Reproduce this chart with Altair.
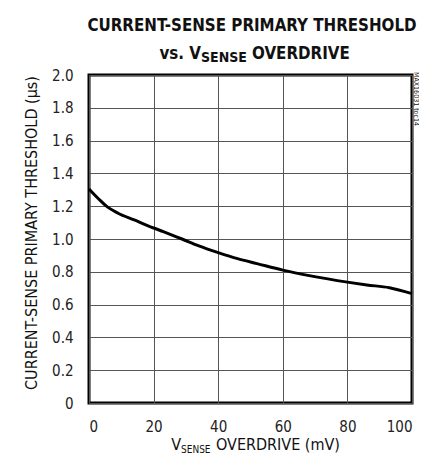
import altair as alt
import pandas as pd

# data
overdrive_mv = [0, 3, 5.4, 9, 14, 20, 23, 28.8, 34, 40, 46, 52, 60, 68.6, 80, 86, 93, 100]
threshold_us = [1.305, 1.244, 1.20, 1.157, 1.116, 1.067, 1.045, 1.0, 0.958, 0.917, 0.88, 0.85, 0.81, 0.775, 0.737, 0.72, 0.703, 0.667]

x_ticks = [0, 20, 40, 60, 80, 100]
y_ticks = [0, 0.2, 0.4, 0.6, 0.8, 1.0, 1.2, 1.4, 1.6, 1.8, 2.0]

title_line1 = "CURRENT-SENSE PRIMARY THRESHOLD"
title_line2_a = "vs. V"
title_line2_sub = "SENSE"
title_line2_b = "OVERDRIVE"
y_title = "CURRENT-SENSE PRIMARY THRESHOLD (µs)"
x_title_a = "V"
x_title_sub = "SENSE"
x_title_b = "OVERDRIVE (mV)"
toc_label = "MAX16031 toc14"

W, H = 323, 328
FONT = "DejaVu Sans Condensed, Roboto, sans-serif"

df = pd.DataFrame({"x": overdrive_mv, "y": threshold_us})

line = alt.Chart(df).mark_line(color="black", strokeWidth=3, interpolate="monotone").encode(
    x=alt.X("x:Q", scale=alt.Scale(domain=[0, 100], nice=False),
            axis=alt.Axis(values=x_ticks, title=None, grid=True, ticks=False, domain=False,
                          labelFont=FONT, labelFontSize=15, labelColor="#222", labelPadding=16,
                          gridColor="#555", gridWidth=1)),
    y=alt.Y("y:Q", scale=alt.Scale(domain=[0, 2], nice=False),
            axis=alt.Axis(values=y_ticks, title=None, grid=True, ticks=False, domain=False,
                          labelExpr="datum.value == 0 ? '0' : format(datum.value, '.1f')",
                          labelFont=FONT, labelFontSize=15, labelColor="#222", labelPadding=16,
                          gridColor="#555", gridWidth=1)),
)

def txt(s, x, y, size, weight="normal", align="left", baseline="alphabetic", angle=0, font=FONT, color="#111"):
    kw = dict(align=align, baseline=baseline, fontSize=size, fontWeight=weight, font=font, color=color)
    if angle:
        kw["angle"] = angle
    return alt.Chart(pd.DataFrame({"t": [s]})).mark_text(**kw).encode(
        text="t:N", x=alt.value(x), y=alt.value(y))

layers = [
    line,
    txt(title_line1, 163, -44, 16.8, weight="bold", align="center"),
    txt(title_line2_a, 112, -16, 16.8, weight="bold", align="right"),
    txt(title_line2_sub, 112, -13, 14, weight="bold", align="left"),
    txt(title_line2_b, 163, -16, 16.8, weight="bold", align="left"),
    txt(y_title, -52, 158, 16, align="center", angle=270),
    txt(x_title_a, 92, H + 47, 16, align="right"),
    txt(x_title_sub, 92, H + 50, 10, align="left"),
    txt(x_title_b, 127, H + 47, 16, align="left"),
    txt(toc_label, W + 7.5, 24, 7, align="center", baseline="top", angle=90),
]

chart = alt.layer(*layers).properties(
    width=W, height=H,
    autosize=alt.AutoSizeParams(type="none"),
    padding={"left": 81, "top": 67, "right": 7, "bottom": 51},
).configure_view(stroke="black", strokeWidth=3)

chart.save("out.html", embed_options={"renderer": "svg", "actions": False})
